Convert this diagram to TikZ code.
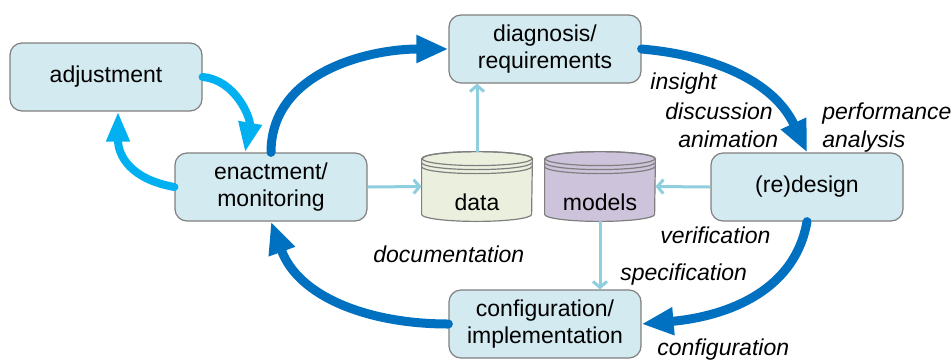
\documentclass[tikz,border=0pt]{standalone}
\usepackage{fontspec}
\setmainfont{Liberation Sans}
\usetikzlibrary{positioning,arrows.meta,calc}
\definecolor{boxfill}{HTML}{D3EAF0}
\definecolor{boxline}{HTML}{7F7F7F}
\definecolor{datafill}{HTML}{EBF0DE}
\definecolor{modelfill}{HTML}{CDC3DB}
\definecolor{flowblue}{HTML}{0070C0}
\definecolor{adjblue}{HTML}{00B0F0}
\definecolor{linkblue}{HTML}{8FCEDF}
\pgfdeclarelayer{background}
\pgfsetlayers{background,main}

% drum outline behind a store node
\newcommand{\drum}[2]{%
  \begin{pgfonlayer}{background}
    \filldraw[fill=#2, draw=boxline, line width=0.6pt] ($(#1.north west)+(0,-7)$) -- ($(#1.south west)+(0,7)$)
        arc (180:360:55 and 7) -- ($(#1.north east)+(0,-7)$) arc (0:180:55 and 7) -- cycle;
    \draw[boxline, line width=0.6pt] ($(#1.north)+(0,-7)$) ellipse (55 and 7);
    \draw[boxline, line width=0.6pt] ($(#1.north west)+(0,-11)$) arc (180:360:55 and 7);
    \draw[boxline, line width=0.6pt] ($(#1.north west)+(0,-15)$) arc (180:360:55 and 7);
  \end{pgfonlayer}}

\begin{document}
\begin{tikzpicture}[x=0.5pt, y=0.5pt,
    font=\fontsize{11.5}{13.5}\selectfont,
    stage/.style={rounded corners=6pt, fill=boxfill, draw=boxline, line width=0.6pt,
        minimum width=96pt, minimum height=34pt, align=center, inner sep=2pt},
    store/.style={inner sep=0pt, minimum width=55pt, text height=29pt, text depth=5.5pt},
    note/.style={font=\fontsize{11.5}{13.5}\selectfont\itshape, anchor=base west, inner sep=0pt},
    flow/.style={flowblue, line width=4.5pt, line cap=round, -{Triangle[length=16pt,width=13pt]}},
    adjust/.style={adjblue, line width=4pt, line cap=round, -{Triangle[length=15pt,width=11pt]}},
    link/.style={linkblue, line width=1.5pt, -{Straight Barb[length=3pt,width=7pt]}}]
    \useasboundingbox (0,0) rectangle (952,-360);

    % Process steps
    \node[stage] (adj) at (106,-77) {adjustment};
    \node[stage] (enact) at (271,-187) {enactment/\\monitoring};
    \node[stage] (diag) at (545,-49) {diagnosis/\\requirements};
    \node[stage] (redes) at (807,-187) {(re)design};
    \node[stage] (config) at (545,-324) {configuration/\\implementation};

    % Stores
    \node[store] (data) at (477,-186.5) {data};
    \node[store] (models) at (600,-186.5) {models};
    \drum{data}{datafill}
    \drum{models}{modelfill}

    % Main cycle
    \draw[flow] (enact.north) to[out=90, in=180] (diag.west);
    \draw[flow] (diag.east) to[out=-5, in=115] (redes.north);
    \draw[flow] (redes.south) to[out=-100, in=5] (config.east);
    \draw[flow] (config.west) to[out=180, in=-70] (enact.south);

    % Adjustment loop
    \draw[adjust] (adj.east) to[out=-5, in=80] ([xshift=-13pt]enact.north);
    \draw[adjust] (enact.west) to[out=170, in=-90, looseness=1.2] ([xshift=6pt]adj.south);

    % Links to the stores
    \draw[link] (enact.east) -- (data.west);
    \draw[link] (data.north) -- (data.north |- diag.south);
    \draw[link] (redes.west) -- (models.east);
    \draw[link] (models.south) -- (models.south |- config.north);

    % Labels
    \node[note] (l1) at (650,-89) {insight};
    \node[note] (l2) at (665,-119) {discussion};
    \node[note] (l3) at (678,-147) {animation};
    \node[note] (l4) at (822,-119) {performance};
    \node[note] (l5) at (822,-147) {analysis};
    \node[note] (l6) at (660,-243) {verification};
    \node[note] (l7) at (620,-280) {specification};
    \node[note] (l8) at (657,-355) {configuration};
    \node[note] (l9) at (373,-262) {documentation};
\end{tikzpicture}
\end{document}
